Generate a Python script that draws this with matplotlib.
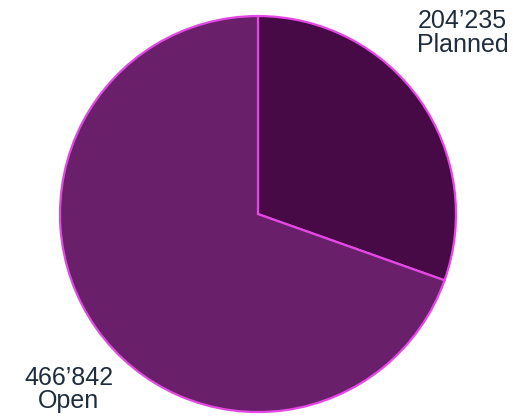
import matplotlib.pyplot as plt

# Planned vs open volume
labels = ["Planned", "Open"]
values = [204235, 466842]
value_text = ["204\u2019235", "466\u2019842"]
colors = ["#470a46", "#6a1f6b"]

plt.rcParams['font.family'] = ['Liberation Sans', 'DejaVu Sans']

fig = plt.figure(figsize=(5.13, 4.19), dpi=100)
ax = fig.add_axes([0, 0, 1, 1])

ax.pie(values, colors=colors, startangle=90, counterclock=False, radius=1,
       wedgeprops=dict(edgecolor="#e448e4", linewidth=1.6))

# value on the first line, category name underneath
label_pos = [(1.033, 0.939, 0.818), (-0.957, -0.864, -0.980)]
for (x, y1, y2), val, name in zip(label_pos, value_text, labels):
    ax.text(x, y1, val, ha="center", va="baseline", fontsize=18, color="#1f2d3d")
    ax.text(x, y2, name, ha="center", va="baseline", fontsize=18, color="#1f2d3d")

ax.set_xlim(-1.303, 1.288)
ax.set_ylim(-1.035, 1.081)
ax.set_aspect("auto")
ax.axis("off")

fig.savefig("out.png", dpi=100)
